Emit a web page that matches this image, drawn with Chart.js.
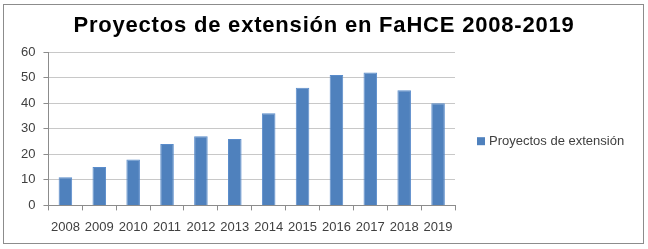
<!DOCTYPE html>
<html>
<head>
<meta charset="utf-8">
<script src="https://cdn.jsdelivr.net/npm/chart.js@4"></script>
<style>
    html, body { margin: 0; padding: 0; background: #fff; }
    #marco {
        position: absolute; left: 3px; top: 4px;
        width: 639px; height: 238px;
        border: 1px solid #8c8c8c;
    }
    #grafico { position: absolute; left: 0; top: 0; display: block; }
</style>
</head>
<body>
<div id="marco"></div>
<canvas id="grafico" width="648" height="249"></canvas>
<script>
var anios = ['2008', '2009', '2010', '2011', '2012', '2013', '2014', '2015', '2016', '2017', '2018', '2019'];
var proyectos = [11, 15, 18, 24, 27, 26, 36, 46, 51, 52, 45, 40];
var nombreSerie = 'Proyectos de extensión';
var titulo = 'Proyectos de extensión en FaHCE 2008-2019';

var fuente = '"Liberation Sans", Arial, sans-serif';

// titulo centrado en todo el ancho y leyenda a la derecha, dibujados a mano
var extras = {
    id: 'extras',
    afterDraw: function (chart) {
        var c = chart.ctx;
        var ds = chart.data.datasets[0];
        var area = chart.chartArea;

        c.save();
        c.fillStyle = '#000';
        c.font = 'bold 22px ' + fuente;
        c.letterSpacing = '0.8px';
        c.textAlign = 'center';
        c.textBaseline = 'alphabetic';
        c.fillText(titulo, chart.width / 2, 32);
        c.restore();

        var x = area.right + 22;
        var y = (area.top + area.bottom) / 2 + 12.5;
        c.save();
        c.fillStyle = ds.backgroundColor;
        c.fillRect(x, y - 4, 8, 8);
        c.fillStyle = '#404040';
        c.font = '13px ' + fuente;
        c.textBaseline = 'middle';
        c.fillText(ds.label, x + 12, y);
        c.restore();
    }
};

var ctx = document.getElementById('grafico').getContext('2d');
var grafico = new Chart(ctx, {
    type: 'bar',
    data: {
        labels: anios,
        datasets: [
            {
                label: nombreSerie,
                data: proyectos,
                backgroundColor: '#4f81bd',
                borderColor: '#5a8ccb',
                borderWidth: 1,
                categoryPercentage: 1,
                barPercentage: 0.4
            }
        ]
    },
    options: {
        responsive: false,
        animation: false,
        layout: { padding: { left: 13, right: 193, bottom: 5, top: 52 } },
        plugins: {
            title: { display: false },
            legend: { display: false },
            tooltip: { enabled: false }
        },
        scales: {
            x: {
                grid: {
                    display: true,
                    offset: true,
                    drawOnChartArea: false,
                    drawTicks: true,
                    tickLength: 5,
                    color: '#8c8c8c'
                },
                border: { color: '#8c8c8c' },
                ticks: {
                    color: '#404040',
                    font: { family: fuente, size: 13 },
                    padding: 9,
                    maxRotation: 0
                }
            },
            y: {
                min: 0,
                max: 60,
                ticks: {
                    stepSize: 10,
                    color: '#404040',
                    font: { family: fuente, size: 13 },
                    padding: 8
                },
                grid: {
                    color: '#c8c8c8',
                    tickLength: 5,
                    tickColor: '#8c8c8c'
                },
                border: { color: '#8c8c8c' }
            }
        }
    },
    plugins: [extras]
});
</script>
</body>
</html>
